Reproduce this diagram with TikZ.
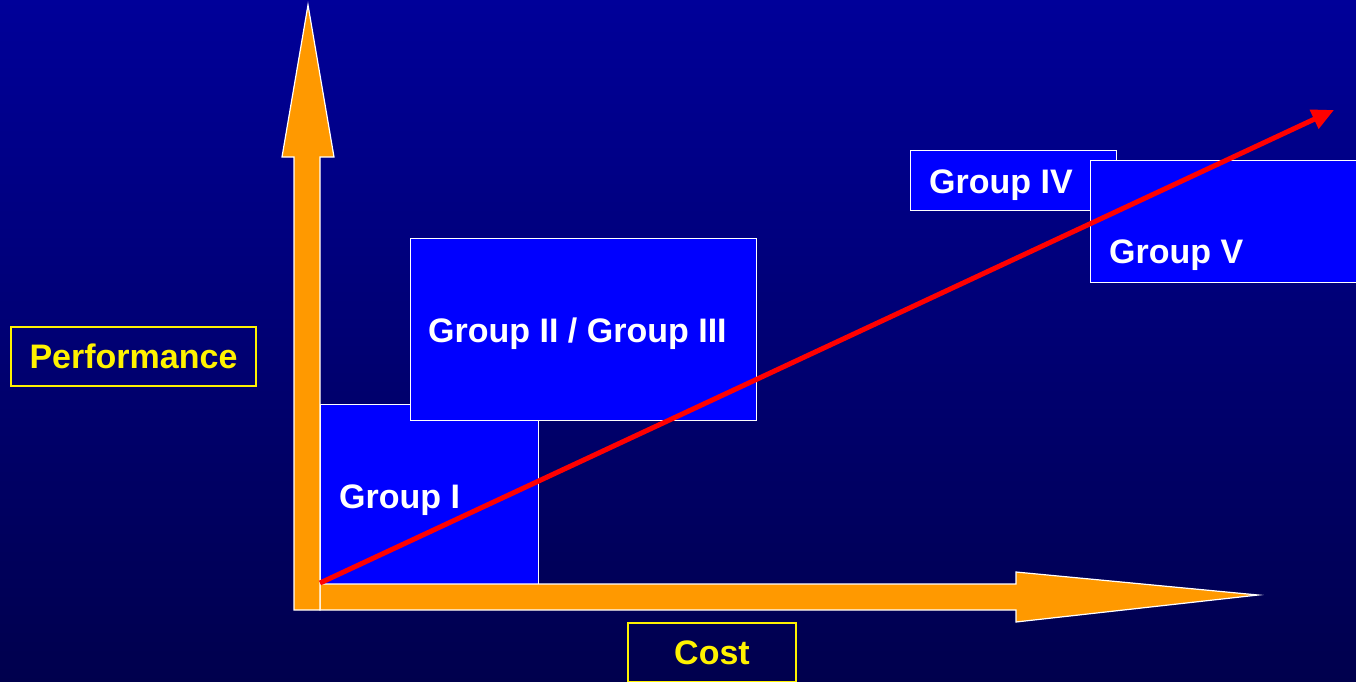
\documentclass[tikz,border=0pt]{standalone}
\usepackage{fontspec}
\setmainfont{Liberation Sans}
\usetikzlibrary{arrows.meta}
\definecolor{bgtop}{RGB}{0,0,153}
\definecolor{bgbot}{RGB}{0,0,77}
\definecolor{axisorange}{RGB}{255,153,0}
\definecolor{boxblue}{RGB}{0,0,255}
\tikzset{
  boxstyle/.style={draw=white, line width=1.2pt, fill=boxblue, inner sep=0pt, anchor=north west},
  lbl/.style={text=white, font=\fontsize{34}{40}\selectfont\bfseries, inner sep=0pt, anchor=base west},
  axislbl/.style={draw=yellow, line width=2pt, text=yellow, font=\fontsize{34}{40}\selectfont\bfseries, inner sep=0pt},
  axisarrow/.style={fill=axisorange, draw=white, line width=1.2pt, line join=miter},
  trend/.style={draw=red, line width=5pt, -{Triangle[length=22pt,width=20pt]}}
}
\begin{document}
\begin{tikzpicture}[x=1pt,y=-1pt]
\useasboundingbox (0,0) rectangle (1356,682);
\clip (0,0) rectangle (1356,682);
\shade[top color=bgtop, bottom color=bgbot] (0,0) rectangle (1356,682);
% boxes
\node[boxstyle, minimum width=218pt, minimum height=181pt] (g1) at (320,404) {};
\node[boxstyle, minimum width=346pt, minimum height=182pt] (g23) at (410,238) {};
\node[boxstyle, minimum width=206pt, minimum height=60pt] (g4) at (910,150) {};
\node[boxstyle, minimum width=290pt, minimum height=122pt] (g5) at (1090,160) {};
% labels
\node[lbl] (t1) at (339,508) {Group I};
\node[lbl] (t23) at (428,342) {Group II / Group III};
\node[lbl] (t4) at (929,193) {Group IV};
\node[lbl] (t5) at (1109,263) {Group V};
% axes
\path[axisarrow] (320,584) -- (1016,584) -- (1016,572) -- (1258,595) -- (1016,622) -- (1016,610) -- (320,610) -- cycle;
\path[axisarrow] (294,610) -- (294,157) -- (282,157) -- (308,5) -- (334,157) -- (320,157) -- (320,610) -- cycle;
% axis labels
\node[axislbl, minimum width=245pt, minimum height=59pt] (perf) at (133.5,356.5) {Performance};
\node[axislbl, minimum width=168pt, minimum height=59pt, anchor=north] (cost) at (712,622) {Cost};
% trend
\coordinate (o) at (320,583);
\coordinate (e) at (1334,110);
\draw[trend] (o) -- (e);
\end{tikzpicture}
\end{document}
